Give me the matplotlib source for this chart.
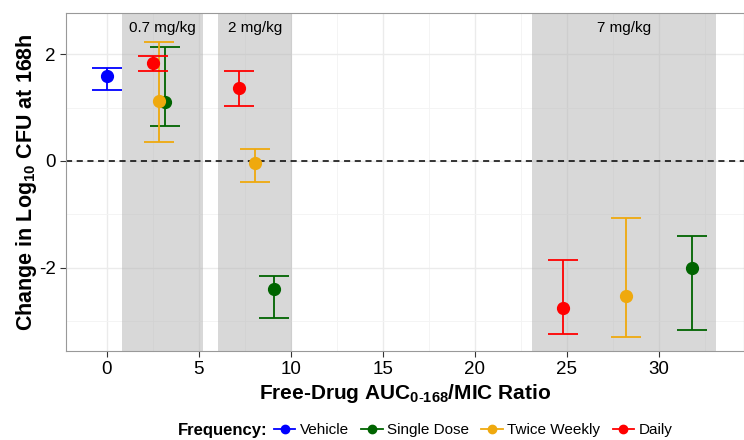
import matplotlib.pyplot as plt
from matplotlib.lines import Line2D

plt.rcParams['font.family'] = ['Liberation Sans', 'DejaVu Sans']
plt.rcParams['mathtext.fontset'] = 'custom'
plt.rcParams['mathtext.rm'] = 'Liberation Sans'
plt.rcParams['mathtext.bf'] = 'Liberation Sans:bold'
plt.rcParams['axes.unicode_minus'] = False

# Frequency groups
groups = ['Vehicle', 'Single Dose', 'Twice Weekly', 'Daily']
colors = {'Vehicle': '#0000FF', 'Single Dose': '#006400',
          'Twice Weekly': '#EFA90E', 'Daily': '#FF0000'}

# Points: frequency, AUC/MIC ratio, change in log10 CFU, lower, upper
freq = ['Vehicle', 'Single Dose', 'Twice Weekly', 'Daily',
        'Daily', 'Twice Weekly', 'Single Dose',
        'Daily', 'Twice Weekly', 'Single Dose']
ratio = [0.0, 3.2, 2.85, 2.5, 7.2, 8.05, 9.1, 24.8, 28.2, 31.8]
change = [1.59, 1.10, 1.13, 1.83, 1.36, -0.04, -2.41, -2.75, -2.53, -2.01]
lower = [1.33, 0.65, 0.36, 1.69, 1.03, -0.39, -2.95, -3.25, -3.30, -3.17]
upper = [1.74, 2.13, 2.23, 1.97, 1.68, 0.23, -2.16, -1.86, -1.08, -1.41]

# Dose bands
dose_labels = ['0.7 mg/kg', '2 mg/kg', '7 mg/kg']
dose_start = [0.85, 6.05, 23.1]
dose_end = [5.25, 10.05, 33.1]

fig = plt.figure(figsize=(7.44, 4.4), dpi=100)
ax = fig.add_axes([0.0887, 0.203, 0.911, 0.768])

for s, e, lab in zip(dose_start, dose_end, dose_labels):
    ax.axvspan(s, e, color='#B3B3B3', alpha=0.5, lw=0, zorder=1)
    ax.text((s + e) / 2, 2.5, lab, ha='center', va='center', fontsize=11, zorder=5)

ax.axhline(0, color='black', linestyle=(0, (4, 3)), lw=1.1, zorder=2)

for f, x, y, lo, hi in zip(freq, ratio, change, lower, upper):
    ax.errorbar(x, y, yerr=[[y - lo], [hi - y]], fmt='o', color=colors[f],
                markersize=8.5, elinewidth=1.3, capsize=10.5, capthick=1.3,
                zorder=4)

ax.set_xlim(-2.2, 34.6)
ax.set_ylim(-3.56, 2.78)
ax.set_xticks([0, 5, 10, 15, 20, 25, 30])
ax.set_xticks([2.5, 7.5, 12.5, 17.5, 22.5, 27.5, 32.5], minor=True)
ax.set_yticks([-2, 0, 2])
ax.set_yticks([-3, -1, 1], minor=True)
ax.grid(which='major', color='#EBEBEB', lw=1.0, zorder=0)
ax.grid(which='minor', color='#F3F3F3', lw=0.6, zorder=0)
ax.set_axisbelow(True)
ax.tick_params(axis='both', which='major', labelsize=13.5, length=4, color='#333333')
ax.tick_params(which='minor', length=0)
for sp in ax.spines.values():
    sp.set_color('#999999')

ax.set_xlabel(r'Free-Drug AUC$_{\mathbf{0\text{-}168}}$/MIC Ratio', fontsize=15,
              fontweight='bold', labelpad=3)
ax.set_ylabel(r'Change in Log$_{\mathbf{10}}$ CFU at 168h', fontsize=15.5,
              fontweight='bold', labelpad=0)

handles = [Line2D([0], [0], color=colors[g], marker='o', markersize=6, lw=1.3)
           for g in groups]
fig.text(0.36, 0.022, 'Frequency:', fontsize=12, fontweight='bold',
         ha='right', va='center')
fig.legend(handles, groups, loc='center left', bbox_to_anchor=(0.36, 0.022),
           ncol=4, frameon=False, fontsize=11, handlelength=1.4,
           handletextpad=0.3, columnspacing=0.8, borderaxespad=0)

fig.savefig('out.png', dpi=100)
